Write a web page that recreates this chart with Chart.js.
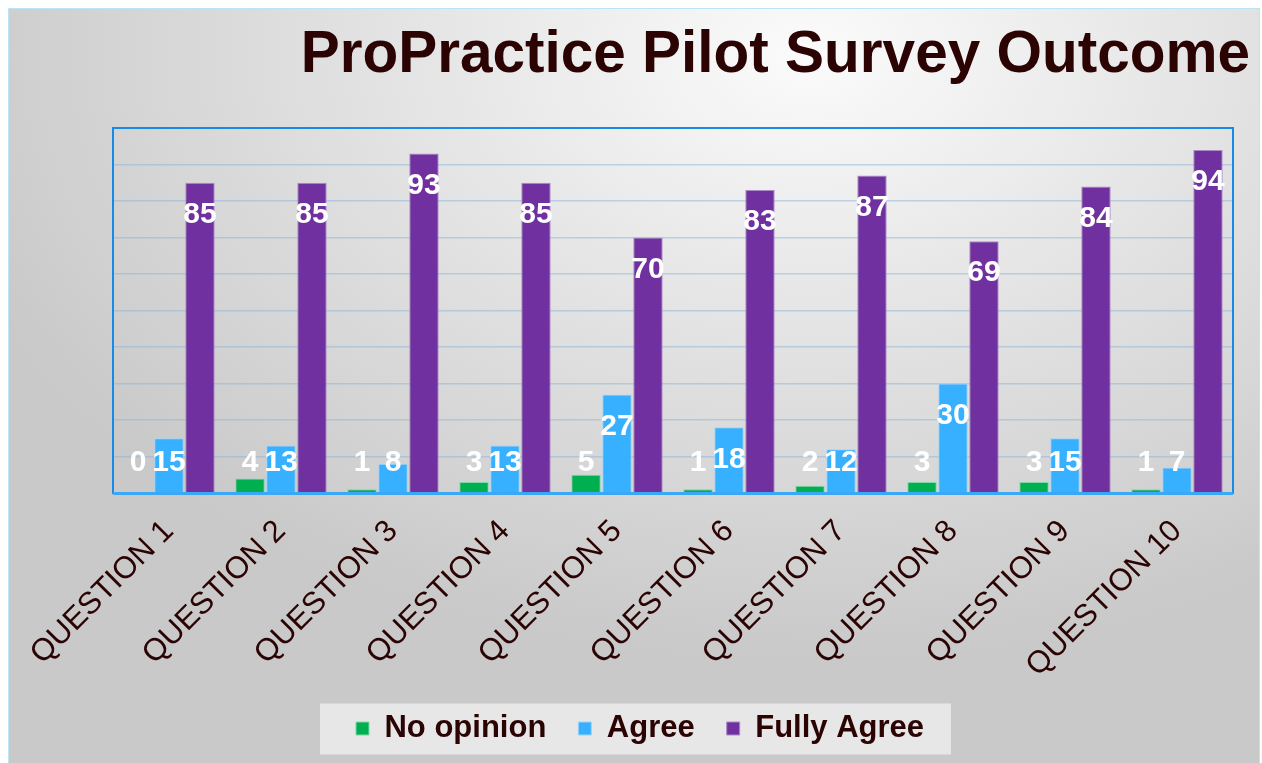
<!DOCTYPE html>
<html>
<head>
<meta charset="utf-8">
<script src="https://cdn.jsdelivr.net/npm/chart.js@4.4.1/dist/chart.umd.min.js"></script>
<style>
  html, body { margin: 0; padding: 0; background: #fff; }
  #frame {
    position: absolute; left: 8px; top: 8px;
    width: 1250px; height: 755px;
    border: 1px solid #bde3f7; border-bottom: none;
    background: radial-gradient(ellipse 72% 80% at 64% 6%, #fbfbfb 0%, #e4e4e4 45%, #c9c9c9 100%);
  }
  canvas { display: block; }
</style>
</head>
<body>
<div id="frame"><canvas id="survey" width="1250" height="755"></canvas></div>
<script>
// Survey data (percent of respondents)
const QUESTIONS = ['QUESTION 1', 'QUESTION 2', 'QUESTION 3', 'QUESTION 4', 'QUESTION 5',
                   'QUESTION 6', 'QUESTION 7', 'QUESTION 8', 'QUESTION 9', 'QUESTION 10'];
const NO_OPINION  = [0, 4, 1, 3, 5, 1, 2, 3, 3, 1];
const AGREE       = [15, 13, 8, 13, 27, 18, 12, 30, 15, 7];
const FULLY_AGREE = [85, 85, 93, 85, 70, 83, 87, 69, 84, 94];

const FONT = '"Liberation Sans", Arial, sans-serif';
const INK = '#2b0303';

// ─── Plugins ────────────────────────────────────────────────────────────────
const titlePlugin = {
  id: 'bigTitle',
  afterDraw(chart) {
    const ctx = chart.ctx;
    ctx.save();
    ctx.font = 'bold 58.5px ' + FONT;
    ctx.fillStyle = INK;
    ctx.textAlign = 'right';
    ctx.textBaseline = 'alphabetic';
    ctx.fillText('ProPractice Pilot Survey Outcome', 1241, 63);
    ctx.restore();
  }
};

const frameAndLegendBg = {
  id: 'frameAndLegendBg',
  beforeDraw(chart) {
    const lg = chart.legend;
    if (!lg || !lg.legendHitBoxes.length) return;
    const boxes = lg.legendHitBoxes;
    const left = Math.min(...boxes.map(b => b.left)) - 36;
    const right = Math.max(...boxes.map(b => b.left + b.width)) + 27;
    const cy = boxes[0].top + boxes[0].height / 2;
    const ctx = chart.ctx;
    ctx.save();
    ctx.fillStyle = 'rgba(236,236,236,0.85)';
    ctx.fillRect(left, cy - 25, right - left, 51);
    ctx.restore();
  },
  afterDatasetsDraw(chart) {
    const a = chart.chartArea;
    const ctx = chart.ctx;
    ctx.save();
    ctx.strokeStyle = '#1789e6';
    ctx.lineWidth = 2;
    ctx.strokeRect(a.left, a.top, a.right - a.left, a.bottom - a.top);
    ctx.strokeStyle = '#3aa8f6';
    ctx.lineWidth = 3;
    ctx.beginPath();
    ctx.moveTo(a.left, a.bottom + 0.5);
    ctx.lineTo(a.right, a.bottom + 0.5);
    ctx.stroke();
    ctx.restore();
  }
};

const valueLabels = {
  id: 'valueLabels',
  afterDatasetsDraw(chart) {
    const ctx = chart.ctx;
    const base = chart.chartArea.bottom;
    ctx.save();
    ctx.font = 'bold 30px ' + FONT;
    ctx.fillStyle = '#fff';
    ctx.textAlign = 'center';
    ctx.textBaseline = 'middle';
    chart.data.datasets.forEach((ds, i) => {
      chart.getDatasetMeta(i).data.forEach((bar, j) => {
        const y = Math.min(bar.y + 32, base - 30);
        ctx.fillText(String(ds.data[j]), bar.x, y);
      });
    });
    ctx.restore();
  }
};

new Chart(document.getElementById('survey'), {
  type: 'bar',
  data: {
    labels: QUESTIONS,
    datasets: [
      { label: 'No opinion', data: NO_OPINION, backgroundColor: '#00b050', borderColor: '#7fd8a6', borderWidth: 1 },
      { label: 'Agree', data: AGREE, backgroundColor: '#36b0ff', borderColor: '#9ad6ff', borderWidth: 1 },
      { label: 'Fully Agree', data: FULLY_AGREE, backgroundColor: '#7030a0', borderColor: '#a98bc9', borderWidth: 1 },
    ],
  },
  options: {
    responsive: false,
    animation: false,
    layout: { padding: { left: 38, right: 26, top: 119, bottom: 10 } },
    datasets: { bar: { categoryPercentage: 0.83, barPercentage: 0.95 } },
    scales: {
      x: {
        grid: { display: false },
        border: { display: false },
        ticks: {
          color: INK,
          font: { family: FONT, size: 31 },
          minRotation: 45, maxRotation: 45,
          padding: 12,
        },
        afterFit(s) { s.height = 188; },
      },
      y: {
        min: 0, max: 100,
        grid: { color: 'rgba(140,180,215,0.5)', lineWidth: 1.5, drawTicks: false },
        border: { display: false },
        ticks: { display: false, stepSize: 10 },
        afterFit(s) { s.width = 66; },
      },
    },
    plugins: {
      title: { display: false },
      tooltip: { enabled: false },
      legend: {
        position: 'bottom',
        labels: {
          color: INK,
          font: { family: FONT, size: 31, weight: 'bold' },
          boxWidth: 13, boxHeight: 13,
          padding: 32,
        },
      },
    },
  },
  plugins: [titlePlugin, frameAndLegendBg, valueLabels],
});
</script>
</body>
</html>
